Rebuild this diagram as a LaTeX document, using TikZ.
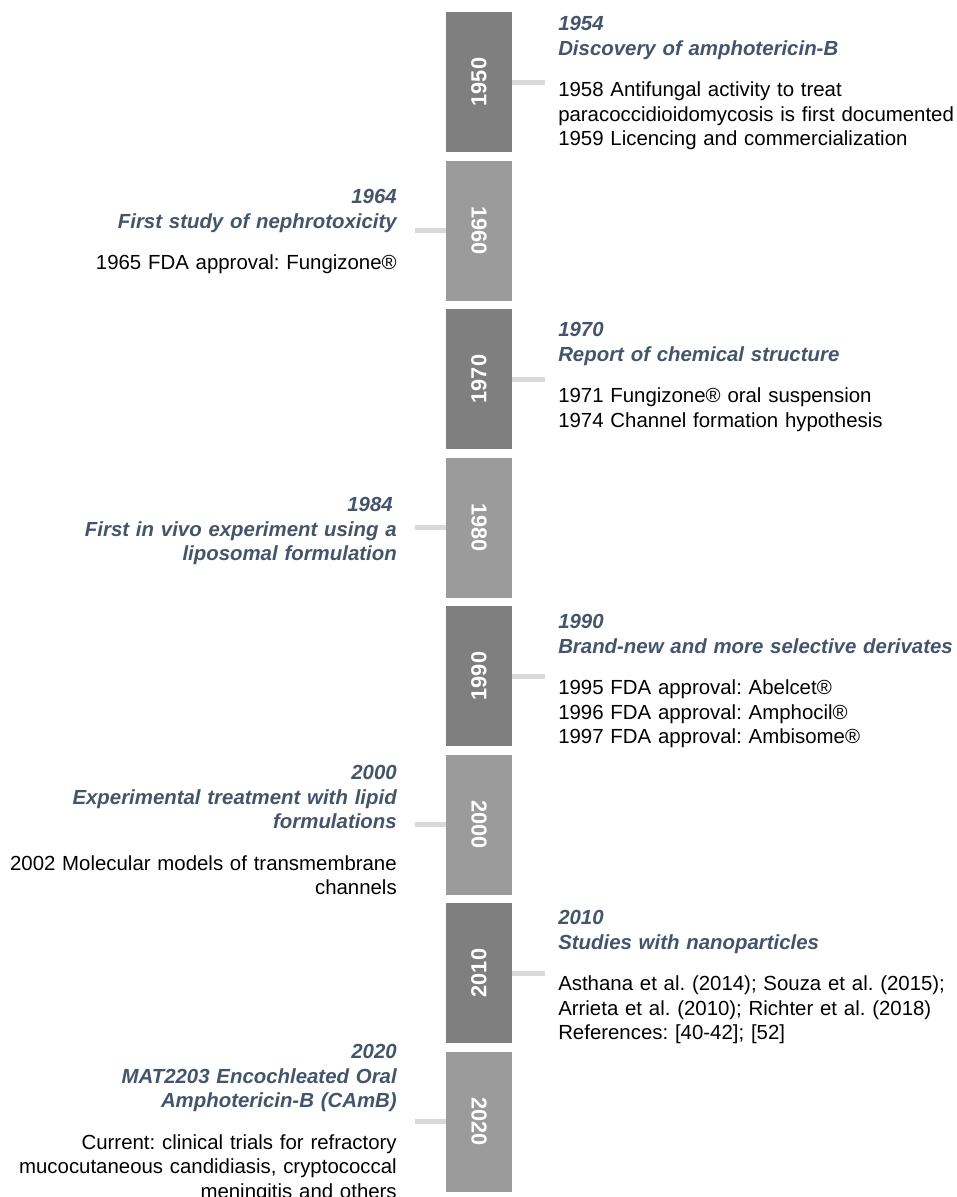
\documentclass[tikz,border=0pt]{standalone}
\usepackage{fontspec}
\setmainfont{Liberation Sans}
\usetikzlibrary{positioning}
\frenchspacing

\definecolor{bardark}{HTML}{7F7F7F}
\definecolor{barlight}{HTML}{9B9B9B}
\definecolor{ticklight}{HTML}{D9D9D9}
\definecolor{headblue}{HTML}{44546A}

\newcommand{\evhead}[1]{{\color{headblue}\bfseries\itshape #1}}

\begin{document}
\begin{tikzpicture}[x=0.75pt, y=-0.75pt,
    every node/.style={font=\fontsize{15.3}{18.4}\selectfont, inner sep=0pt},
    decade/.style={rectangle, minimum width=49.5pt, minimum height=105pt,
      text=white, font=\fontsize{16.3}{18}\selectfont\bfseries},
    tick/.style={draw=ticklight, line width=3.75pt},
    evright/.style={anchor=north west, text width=310pt, align=left},
    evleft/.style={anchor=north east, text width=310pt, align=right},
  ]
  \useasboundingbox (0,0) rectangle (957,1197);

  % decade bars, ticks alternate right / left
  \foreach \i/\yr in {0/1950,1/1960,2/1970,3/1980,4/1990,5/2000,6/2010,7/2020}{
    \ifodd\i
      \node[decade, fill=barlight] (bar\i) at (479, 82+148.5*\i) {\rotatebox{-90}{\yr}};
      \coordinate (tip\i) at ([xshift=-23.25pt]bar\i.west);
    \else
      \node[decade, fill=bardark] (bar\i) at (479, 82+148.5*\i) {\rotatebox{90}{\yr}};
      \coordinate (tip\i) at ([xshift=24.75pt]bar\i.east);
    \fi
    \draw[tick] (bar\i) -- (tip\i);
  }

  % events
  \node[evright] (ev1950) at (558,16) {\evhead{1954\\Discovery of amphotericin-B}\\[13pt]1958 Antifungal activity to treat\\paracoccidioidomycosis is first documented\\1959 Licencing and commercialization};
  \node[evleft] (ev1960) at (397,189) {\evhead{1964\\First study of nephrotoxicity}\\[13pt]1965 FDA approval: Fungizone®};
  \node[evright] (ev1970) at (558,322) {\evhead{1970\\Report of chemical structure}\\[13pt]1971 Fungizone® oral suspension\\1974 Channel formation hypothesis};
  \node[evleft] (ev1980) at (397,497) {\evhead{1984\kern3pt\\First in vivo experiment using a\\liposomal formulation}};
  \node[evright] (ev1990) at (558,614) {\evhead{1990\\Brand-new and more selective derivates}\\[13pt]1995 FDA approval: Abelcet®\\1996 FDA approval: Amphocil®\\1997 FDA approval: Ambisome®};
  \node[evleft] (ev2000) at (397,765) {\evhead{2000\\Experimental treatment with lipid\\formulations}\\[13pt]2002 Molecular models of transmembrane\\channels};
  \node[evright] (ev2010) at (558,910) {\evhead{2010\\Studies with nanoparticles}\\[13pt]Asthana et al. (2014); Souza et al. (2015);\\Arrieta et al. (2010); Richter et al. (2018)\\References: [40-42]; [52]};
  \node[evleft] (ev2020) at (397,1044) {\evhead{2020\\MAT2203 Encochleated Oral\\Amphotericin-B (CAmB)}\\[13pt]Current: clinical trials for refractory\\mucocutaneous candidiasis, cryptococcal\\meningitis and others};
\end{tikzpicture}
\end{document}
